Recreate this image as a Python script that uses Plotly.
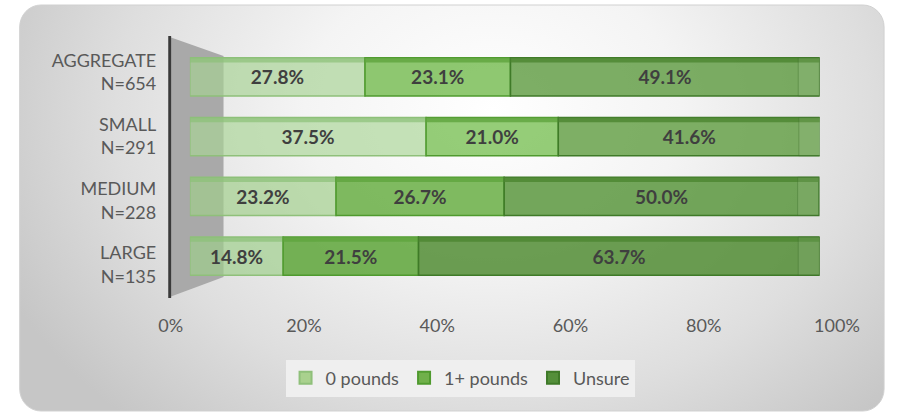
import base64
import plotly.graph_objects as go

# ---- data ----
categories = ["AGGREGATE<br>N=654", "SMALL<br>N=291", "MEDIUM<br>N=228", "LARGE<br>N=135"]
zero_pounds = [27.8, 37.5, 23.2, 14.8]
one_plus_pounds = [23.1, 21.0, 26.7, 21.5]
unsure = [49.1, 41.6, 50.0, 63.7]
series_names = ["0 pounds", "1+ pounds", "Unsure"]
tick_values = [0, 20, 40, 60, 80, 100]
tick_labels = ["0%", "20%", "40%", "60%", "80%", "100%"]

W, H = 909, 413

svg = f'''<svg xmlns="http://www.w3.org/2000/svg" width="{W}" height="{H}" viewBox="0 0 {W} {H}" preserveAspectRatio="none">
<defs>
<radialGradient id="g" gradientUnits="userSpaceOnUse" cx="500" cy="110" r="560"
 gradientTransform="translate(500 110) scale(1 0.75) translate(-500 -110)">
<stop offset="0" stop-color="#ffffff"/>
<stop offset="0.35" stop-color="#f4f4f4"/>
<stop offset="0.7" stop-color="#dedede"/>
<stop offset="1" stop-color="#c6c6c6"/>
</radialGradient>
</defs>
<rect x="0" y="0" width="{W}" height="{H}" fill="#ffffff"/>
<rect x="8" y="5" width="899" height="406" rx="22" ry="22" fill="url(#g)" stroke="#d0d0d0" stroke-width="1"/>
<polygon points="164,37 220,56 220,277 164,297" fill="#a9a9a9"/>
<line x1="164" y1="36" x2="164" y2="298" stroke="#3a3a3a" stroke-width="3"/>
</svg>'''
bg_src = "data:image/svg+xml;base64," + base64.b64encode(svg.encode()).decode()

def px(x):
    return x / W

def py(y):
    return 1 - y / H

# styling: per-row shading imitates the 3-D lighting of the original
fills = [
    ["rgba(165,210,145,0.66)", "rgba(168,212,148,0.66)", "rgba(160,207,138,0.68)", "rgba(158,206,138,0.68)"],
    ["rgba(115,186,78,0.80)", "rgba(122,192,86,0.80)", "rgba(100,172,62,0.82)", "rgba(92,165,55,0.84)"],
    ["rgba(92,154,62,0.80)", "rgba(95,156,64,0.80)", "rgba(86,148,56,0.82)", "rgba(80,140,50,0.84)"],
]
top_fills = ["rgba(140,192,120,0.70)", "rgba(95,165,62,0.82)", "rgba(78,135,50,0.84)"]
lines = ["#8fc07a", "#4f9a2e", "#3f7a28"]
legend_colors = ["#a9d18e", "#70b04a", "#548f3a"]
values = [zero_pounds, one_plus_pounds, unsure]

BAR_W = 0.64
TOP_W = 0.08
END_DEPTH = 3.4  # visual depth of the bar's end face, in axis percent

fig = go.Figure()
bases = [0.0] * len(categories)
for i, (name, vals, tc, lc) in enumerate(zip(series_names, values, top_fills, lines)):
    fig.add_trace(go.Bar(
        y=categories, x=vals, base=bases, name=name, orientation="h",
        width=BAR_W,
        marker=dict(color=fills[i], line=dict(color=lc, width=1.5)),
        text=[f"{v:.1f}%" for v in vals],
        textposition="inside", insidetextanchor="middle",
        textfont=dict(family="Lato", size=19, color="#3f3f3f", weight="bold"),
        hoverinfo="skip", showlegend=False,
    ))
    fig.add_trace(go.Bar(
        y=categories, x=vals, base=bases, orientation="h",
        width=TOP_W, offset=-BAR_W / 2,
        marker=dict(color=tc, line=dict(width=0)),
        showlegend=False, hoverinfo="skip",
    ))
    # legend entry with the flat series colour
    fig.add_trace(go.Bar(
        y=[None], x=[None], name=name, orientation="h",
        marker=dict(color=legend_colors[i], line=dict(color=lc, width=1.5)),
        hoverinfo="skip",
    ))
    bases = [b + v for b, v in zip(bases, vals)]

# end face of each bar
fig.add_trace(go.Bar(
    y=categories, x=[END_DEPTH] * len(categories), base=[b - END_DEPTH for b in bases],
    orientation="h", width=BAR_W,
    marker=dict(color="rgba(255,255,255,0.07)", line=dict(color="rgba(60,110,40,0.40)", width=1)),
    showlegend=False, hoverinfo="skip",
))

# category labels (spread a little wider than the bars, as in the perspective view)
fig.add_trace(go.Scatter(x=[tick_values[0]] * len(categories), y=categories,
                         xaxis="x2", yaxis="y2", mode="markers", marker=dict(opacity=0),
                         showlegend=False, hoverinfo="skip"))

fig.update_layout(
    width=W, height=H,
    margin=dict(l=0, r=0, t=0, b=0),
    paper_bgcolor="rgba(0,0,0,0)", plot_bgcolor="rgba(0,0,0,0)",
    barmode="overlay",
    font=dict(family="Lato", color="#595959"),
    xaxis=dict(domain=[px(185), px(840)], range=[0, 100], visible=False, fixedrange=True),
    yaxis=dict(domain=[py(286), py(47)], type="category", range=[len(categories) - 0.5, -0.5],
               visible=False),
    xaxis2=dict(domain=[px(165), px(858)], range=[0, 100], anchor="free", position=py(313),
                tickvals=tick_values, ticktext=tick_labels, showgrid=False, showline=False,
                zeroline=False, ticks="", tickfont=dict(size=18, color="#595959")),
    yaxis2=dict(domain=[py(297), py(40)], type="category", range=[len(categories) - 0.5, -0.5],
                anchor="free", position=px(150), showgrid=False, showline=False, ticks="",
                zeroline=False, tickfont=dict(size=18, color="#595959")),
    legend=dict(orientation="h", x=px(466), y=py(378), xanchor="center", yanchor="middle",
                bgcolor="#efefef", font=dict(size=18, color="#595959"),
                traceorder="normal", itemsizing="constant"),
    images=[dict(source=bg_src, xref="paper", yref="paper", x=0, y=1, sizex=1, sizey=1,
                 sizing="stretch", layer="below", xanchor="left", yanchor="top")],
    showlegend=True,
)

fig.write_html(
    "out.html",
    config={"responsive": False, "displayModeBar": False},
    post_script="document.body.style.margin='0';document.body.style.overflow='hidden';",
)
